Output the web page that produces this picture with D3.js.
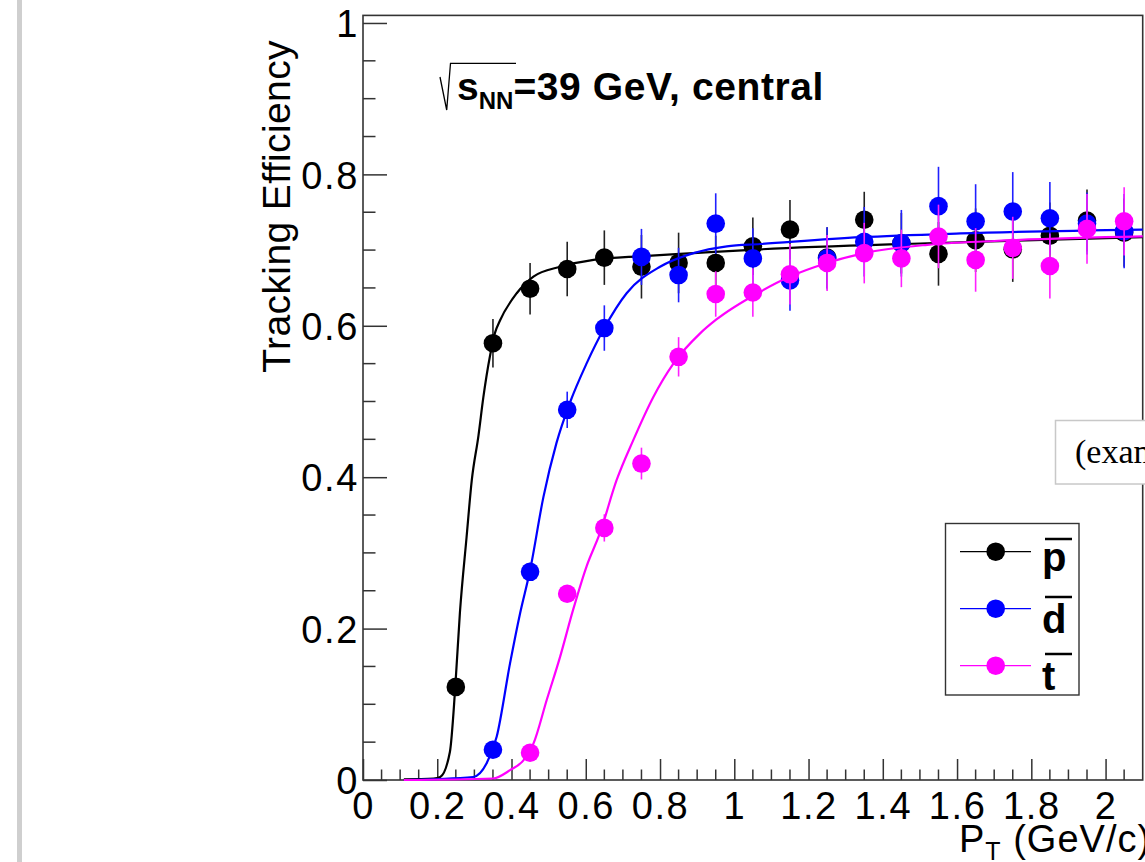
<!DOCTYPE html>
<html>
<head>
<meta charset="utf-8">
<style>
    body { margin: 0; background: #fff; }
    svg { display: block; font-family: 'Liberation Sans', Arial, Helvetica, sans-serif; }
    .axis text { font-size: 38px; fill: #000; letter-spacing: 1.6px; }
    .axis line, .axis path { stroke: #333; }
</style>
</head>
<body>
<svg id="chart" width="1145" height="862"></svg>

<script src="https://cdn.jsdelivr.net/npm/d3@7"></script>
<script>
// --- data ---
const ptBins = [0.25, 0.35, 0.45, 0.55, 0.65, 0.75, 0.85, 0.95, 1.05, 1.15,
                1.25, 1.35, 1.45, 1.55, 1.65, 1.75, 1.85, 1.95, 2.05]

// anti-proton (from 0.25)
const pbarEff = [0.123, 0.577, 0.649, 0.675, 0.690, 0.678, 0.683, 0.683, 0.705, 0.727,
                 0.690, 0.740, 0.709, 0.695, 0.713, 0.701, 0.719, 0.739, 0.723]
const pbarErr = [0.008, 0.032, 0.034, 0.036, 0.036, 0.042, 0.040, 0.036, 0.038, 0.039,
                 0.040, 0.037, 0.040, 0.042, 0.042, 0.043, 0.044, 0.041, 0.045]

// anti-deuteron (from 0.35)
const dbarEff = [0.040, 0.275, 0.489, 0.597, 0.691, 0.667, 0.735, 0.689, 0.660,
                 0.689, 0.711, 0.709, 0.758, 0.738, 0.751, 0.742, 0.735, 0.725]
const dbarErr = [0.006, 0.012, 0.024, 0.030, 0.037, 0.036, 0.040, 0.040, 0.040,
                 0.041, 0.046, 0.044, 0.052, 0.049, 0.052, 0.048, 0.041, 0.049]

// anti-triton (from 0.45)
const tbarEff = [0.036, 0.246, 0.333, 0.418, 0.559, 0.642, 0.644, 0.668,
                 0.683, 0.696, 0.689, 0.718, 0.687, 0.703, 0.679, 0.728, 0.738]
const tbarErr = [0.006, 0.010, 0.018, 0.021, 0.026, 0.030, 0.032, 0.040,
                 0.037, 0.040, 0.038, 0.042, 0.042, 0.041, 0.043, 0.046, 0.045]

// fit curves, points [pT, eff]
const pbarFit = [[0.11, 0.001], [0.19, 0.002], [0.208, 0.004], [0.234, 0.037], [0.248, 0.119],
                 [0.261, 0.221], [0.279, 0.321], [0.293, 0.396], [0.311, 0.455], [0.324, 0.505],
                 [0.342, 0.560], [0.355, 0.590], [0.369, 0.607], [0.414, 0.643], [0.459, 0.665],
                 [0.531, 0.678], [0.621, 0.687], [0.755, 0.692], [0.89, 0.696], [1.07, 0.701],
                 [1.52, 0.709], [2.1, 0.717]]
const dbarFit = [[0.11, 0.0], [0.297, 0.004], [0.333, 0.022], [0.36, 0.057], [0.396, 0.154],
                 [0.423, 0.220], [0.45, 0.277], [0.486, 0.374], [0.521, 0.445], [0.557, 0.498],
                 [0.602, 0.550], [0.65, 0.597], [0.71, 0.643], [0.8, 0.678], [0.89, 0.696],
                 [0.98, 0.705], [1.07, 0.708], [1.34, 0.717], [1.61, 0.722], [2.1, 0.727]]
const tbarFit = [[0.11, 0.0], [0.35, 0.002], [0.396, 0.013], [0.432, 0.026], [0.459, 0.048],
                 [0.495, 0.106], [0.531, 0.163], [0.566, 0.225], [0.602, 0.282], [0.638, 0.326],
                 [0.683, 0.396], [0.728, 0.449], [0.782, 0.506], [0.836, 0.550], [0.908, 0.590],
                 [0.951, 0.608], [1.07, 0.645], [1.15, 0.665], [1.25, 0.683], [1.35, 0.696],
                 [1.52, 0.707], [1.7, 0.712], [2.1, 0.718]]

const xMajor = [0, 0.2, 0.4, 0.6, 0.8, 1, 1.2, 1.4, 1.6, 1.8, 2]
const yMajor = [0, 0.2, 0.4, 0.6, 0.8, 1]

let series = [
    {name: "p", color: "#000000", bar: "#222", start: 0, eff: pbarEff, err: pbarErr, fit: pbarFit},
    {name: "d", color: "#0000ff", bar: "#2020ff", start: 1, eff: dbarEff, err: dbarErr, fit: dbarFit},
    {name: "t", color: "#ff00ff", bar: "#ff20ff", start: 2, eff: tbarEff, err: tbarErr, fit: tbarFit}
]

// --- layout ---
let frame = {left: 363, right: 1142.7, top: 15.4, bottom: 780}

let x = d3.scaleLinear().domain([0, 2.1]).range([frame.left, frame.right])
let y = d3.scaleLinear().domain([0, 1.01]).range([frame.bottom, frame.top])

let svg = d3.select("#chart")

// grey margin bar on the left of the page
svg.append("rect").attr("x", 17).attr("y", 0).attr("width", 5).attr("height", 862).attr("fill", "#cfcfcf")

// frame
svg.append("rect")
    .attr("x", frame.left).attr("y", frame.top)
    .attr("width", frame.right - frame.left).attr("height", frame.bottom - frame.top)
    .attr("fill", "none").attr("stroke", "#333").attr("stroke-width", 1.6)

// minor ticks
let xMinor = d3.range(0, 42).map(i => i * 0.05).filter(v => Math.round(v * 100) % 20 != 0)
let yMinor = d3.range(0, 21).map(i => i * 0.05).filter(v => Math.round(v * 100) % 20 != 0)

let xAxis = d3.axisBottom(x).tickValues(xMajor).tickSize(21)
    .tickFormat(d => d3.format("")(+d.toFixed(1)))
let gx = svg.append("g").attr("class", "axis")
    .attr("transform", `translate(0, ${frame.bottom})`)
    .call(xAxis)
gx.select(".domain").remove()
gx.selectAll(".tick line").attr("y2", -21).attr("stroke-width", 1.5)
gx.selectAll(".tick text").attr("dy", "0.71em").attr("y", 12.5)

gx.selectAll(".minor").data(xMinor).join("line")
    .attr("class", "minor")
    .attr("x1", d => x(d)).attr("x2", d => x(d))
    .attr("y1", 0).attr("y2", -10.5)
    .attr("stroke", "#333").attr("stroke-width", 1.5)

let yAxis = d3.axisLeft(y).tickValues(yMajor).tickSize(24)
    .tickFormat(d => d3.format("")(+d.toFixed(1)))
let gy = svg.append("g").attr("class", "axis")
    .attr("transform", `translate(${frame.left}, 0)`)
    .call(yAxis)
gy.select(".domain").remove()
gy.selectAll(".tick line").attr("x2", 24).attr("stroke-width", 1.5)
gy.selectAll(".tick text").attr("x", -4).attr("dy", "0.36em")

gy.selectAll(".minor").data(yMinor).join("line")
    .attr("class", "minor")
    .attr("y1", d => y(d)).attr("y2", d => y(d))
    .attr("x1", 0).attr("x2", 12.5)
    .attr("stroke", "#333").attr("stroke-width", 1.5)

// axis titles
svg.append("text")
    .attr("transform", "translate(290, 40) rotate(-90)")
    .attr("text-anchor", "end")
    .attr("font-size", 39)
    .attr("letter-spacing", 0.4)
    .text("Tracking Efficiency")

let xt = svg.append("text")
    .attr("x", 959).attr("y", 852)
    .attr("font-size", 38)
    .attr("letter-spacing", 1)
xt.append("tspan").text("P")
xt.append("tspan").attr("font-size", 25).attr("dy", 8).text("T")
xt.append("tspan").attr("dy", -8).text(" (GeV/c)")

// energy label
svg.append("path")
    .attr("d", "M440,77 L446.7,110 L450.5,63.3 L516,63.3")
    .attr("fill", "none").attr("stroke", "#000").attr("stroke-width", 1.3)
let lab = svg.append("text")
    .attr("x", 457).attr("y", 100)
    .attr("font-size", 39).attr("font-weight", "bold")
lab.append("tspan").text("s")
lab.append("tspan").attr("font-size", 24).attr("dy", 9).text("NN")
lab.append("tspan").attr("dy", -9).attr("letter-spacing", 0.6).text("=39 GeV, central")

// data
let fitLine = d3.line()
    .x(d => x(d[0]))
    .y(d => y(d[1]))
    .curve(d3.curveMonotoneX)

series.forEach(function(s) {
    let pts = s.eff.map((v, i) => ({pt: ptBins[i + s.start], eff: v, err: s.err[i]}))
    let g = svg.append("g")

    g.selectAll(".err").data(pts).join("line")
        .attr("class", "err")
        .attr("x1", d => x(d.pt)).attr("x2", d => x(d.pt))
        .attr("y1", d => y(d.eff - d.err)).attr("y2", d => y(d.eff + d.err))
        .attr("stroke", s.bar).attr("stroke-width", 1.6)

    g.selectAll(".dot").data(pts).join("circle")
        .attr("class", "dot")
        .attr("cx", d => x(d.pt)).attr("cy", d => y(d.eff))
        .attr("r", 9.3)
        .attr("fill", s.color)

    g.append("path")
        .attr("d", fitLine(s.fit))
        .attr("fill", "none")
        .attr("stroke", s.color)
        .attr("stroke-width", 2.2)
})

// box of the page overlay
svg.append("rect")
    .attr("x", 1055.5).attr("y", 420.5).attr("width", 120).attr("height", 63.5)
    .attr("fill", "#fff").attr("stroke", "#c8c8c8").attr("stroke-width", 1.5)
svg.append("text")
    .attr("x", 1075).attr("y", 463)
    .attr("font-family", "'Liberation Serif', 'Times New Roman', serif")
    .attr("font-size", 34)
    .text("(example)")

// legend
let legend = svg.append("g")
legend.append("rect")
    .attr("x", 945.5).attr("y", 523.5).attr("width", 133.5).attr("height", 171.5)
    .attr("fill", "#fff").attr("stroke", "#333").attr("stroke-width", 1.4)

let legY = d3.scalePoint().domain(series.map(s => s.name)).range([551.7, 665.7])
let overY = {p: 539, d: 597, t: 654}
let baseY = {p: 571, d: 633, t: 690}

series.forEach(function(s) {
    let cy = legY(s.name)
    legend.append("line")
        .attr("x1", 960).attr("x2", 1031).attr("y1", cy).attr("y2", cy)
        .attr("stroke", s.color).attr("stroke-width", 1.2)
    legend.append("circle")
        .attr("cx", 995.7).attr("cy", cy).attr("r", 9.3).attr("fill", s.color)
    legend.append("text")
        .attr("x", 1042).attr("y", baseY[s.name])
        .attr("font-size", 40).attr("font-weight", "bold")
        .text(s.name)
    legend.append("line")
        .attr("x1", 1045).attr("x2", 1072).attr("y1", overY[s.name]).attr("y2", overY[s.name])
        .attr("stroke", "#000").attr("stroke-width", 2.5)
})
</script>
</body>
</html>
